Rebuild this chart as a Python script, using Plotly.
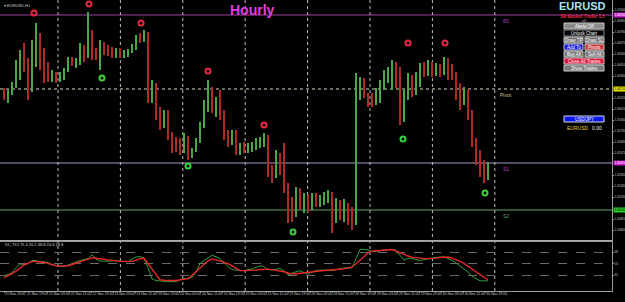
import plotly.graph_objects as go

# ---------------- data ----------------
bar_index = list(range(122))

open_ = [1.0615,1.0613,1.0618,1.0625,1.0645,1.0655,1.0648,1.0630,1.0665,1.0675,
         1.0650,1.0635,1.0632,1.0636,1.0630,1.0634,1.0640,1.0650,1.0647,1.0649,
         1.0663,1.0655,1.0675,1.0658,1.0654,1.0666,1.0660,1.0657,1.0655,1.0658,
         1.0654,1.0657,1.0659,1.0664,1.0673,1.0669,1.0677,1.0615,1.0625,1.0598,
         1.0592,1.0597,1.0575,1.0570,1.0567,1.0562,1.0572,1.0555,1.0560,1.0570,
         1.0585,1.0605,1.0620,1.0605,1.0610,1.0598,1.0575,1.0572,1.0577,1.0560,
         1.0565,1.0562,1.0564,1.0566,1.0569,1.0570,1.0573,1.0540,1.0534,1.0552,
         1.0550,1.0525,1.0500,1.0495,1.0515,1.0505,1.0512,1.0502,1.0513,1.0507,
         1.0512,1.0515,1.0517,1.0495,1.0507,1.0497,1.0505,1.0490,1.0488,1.0622,
         1.0628,1.0615,1.0610,1.0607,1.0618,1.0625,1.0635,1.0638,1.0645,1.0628,
         1.0592,1.0615,1.0632,1.0620,1.0635,1.0642,1.0640,1.0647,1.0638,1.0644,
         1.0640,1.0650,1.0638,1.0634,1.0618,1.0608,1.0618,1.0595,1.0570,1.0552,
         1.0540,1.0535]

high = [1.0622,1.0620,1.0628,1.0650,1.0660,1.0667,1.0652,1.0670,1.0687,1.0677,
        1.0662,1.0648,1.0640,1.0638,1.0638,1.0642,1.0653,1.0653,1.0652,1.0667,
        1.0665,1.0698,1.0680,1.0662,1.0670,1.0668,1.0665,1.0663,1.0662,1.0662,
        1.0660,1.0661,1.0666,1.0675,1.0677,1.0680,1.0678,1.0630,1.0627,1.0603,
        1.0600,1.0600,1.0578,1.0573,1.0572,1.0577,1.0574,1.0562,1.0572,1.0588,
        1.0610,1.0630,1.0623,1.0613,1.0620,1.0600,1.0580,1.0580,1.0580,1.0567,
        1.0568,1.0567,1.0568,1.0572,1.0573,1.0577,1.0575,1.0545,1.0560,1.0557,
        1.0567,1.0527,1.0513,1.0523,1.0522,1.0517,1.0515,1.0517,1.0517,1.0515,
        1.0518,1.0520,1.0518,1.0512,1.0510,1.0511,1.0507,1.0503,1.0637,1.0633,
        1.0632,1.0617,1.0617,1.0622,1.0630,1.0640,1.0643,1.0650,1.0648,1.0643,
        1.0620,1.0637,1.0635,1.0638,1.0647,1.0648,1.0650,1.0648,1.0647,1.0646,
        1.0653,1.0652,1.0646,1.0638,1.0627,1.0623,1.0620,1.0600,1.0572,1.0560,
        1.0550,1.0548]

low = [1.0610,1.0607,1.0615,1.0622,1.0630,1.0638,1.0610,1.0618,1.0643,1.0640,
       1.0627,1.0628,1.0628,1.0627,1.0628,1.0630,1.0638,1.0644,1.0642,1.0645,
       1.0648,1.0652,1.0650,1.0650,1.0640,1.0655,1.0654,1.0652,1.0652,1.0652,
       1.0652,1.0653,1.0657,1.0660,1.0667,1.0668,1.0607,1.0607,1.0590,1.0580,
       1.0582,1.0570,1.0557,1.0558,1.0555,1.0557,1.0550,1.0552,1.0558,1.0567,
       1.0582,1.0598,1.0597,1.0593,1.0590,1.0570,1.0563,1.0565,1.0555,1.0555,
       1.0557,1.0557,1.0558,1.0560,1.0562,1.0563,1.0533,1.0527,1.0532,1.0535,
       1.0517,1.0487,1.0488,1.0493,1.0500,1.0497,1.0498,1.0500,1.0503,1.0503,
       1.0505,1.0507,1.0477,1.0487,1.0490,1.0488,1.0485,1.0480,1.0485,1.0610,
       1.0612,1.0603,1.0603,1.0605,1.0607,1.0620,1.0627,1.0620,1.0622,1.0585,
       1.0588,1.0610,1.0613,1.0615,1.0623,1.0633,1.0634,1.0633,1.0634,1.0633,
       1.0635,1.0630,1.0630,1.0610,1.0600,1.0605,1.0590,1.0563,1.0545,1.0533,
       1.0527,1.0530]

close = [1.0613,1.0618,1.0625,1.0645,1.0655,1.0648,1.0630,1.0665,1.0675,1.0650,
         1.0635,1.0632,1.0636,1.0630,1.0634,1.0640,1.0650,1.0647,1.0649,1.0663,
         1.0655,1.0675,1.0658,1.0654,1.0666,1.0660,1.0657,1.0655,1.0658,1.0654,
         1.0657,1.0659,1.0664,1.0673,1.0669,1.0677,1.0615,1.0625,1.0598,1.0592,
         1.0597,1.0575,1.0570,1.0567,1.0562,1.0572,1.0555,1.0560,1.0570,1.0585,
         1.0605,1.0620,1.0605,1.0610,1.0598,1.0575,1.0572,1.0577,1.0560,1.0565,
         1.0562,1.0564,1.0566,1.0569,1.0570,1.0573,1.0540,1.0534,1.0552,1.0550,
         1.0525,1.0500,1.0495,1.0515,1.0505,1.0512,1.0502,1.0513,1.0507,1.0512,
         1.0515,1.0517,1.0495,1.0507,1.0497,1.0505,1.0490,1.0488,1.0622,1.0628,
         1.0615,1.0610,1.0607,1.0618,1.0625,1.0635,1.0638,1.0645,1.0628,1.0592,
         1.0615,1.0632,1.0620,1.0635,1.0642,1.0640,1.0647,1.0638,1.0644,1.0640,
         1.0650,1.0638,1.0634,1.0618,1.0608,1.0618,1.0595,1.0570,1.0552,1.0540,
         1.0535,1.0545]

# fractal / signal arrows
sell_sig_bar = [7.5, 21.25, 34.25, 51, 65, 101, 110.25]
sell_sig_price = [1.0697, 1.0706, 1.0687, 1.0639, 1.0585, 1.0667, 1.0667]
buy_sig_bar = [24.5, 46, 72.25, 99.75, 120.25]
buy_sig_price = [1.0632, 1.0544, 1.0478, 1.0571, 1.0517]

# pivot levels
level_names = ["R1", "Pivot", "S1", "S2"]
level_prices = [1.0695, 1.0621, 1.0547, 1.0500]

# TDI sub-window
tdi_fast = [31.5,33,36,44,50,48,50,55,55,53, 53,52,48.5,46.5,45.5,45.5,48,50.5,53,55,
            56.5,58,64,57,54,53.5,53.8,54.5,55,54, 53,53,57,60.5,61,59,43.5,26.2,23.8,23,
            22.5,22,22,22,25,27.5,26.5,29,37,50, 55,59,63,61,58,52,45.5,41,40,39.5,
            39.5,40.5,41.8,44,46.5,46,40.5,40.5,41,42.5, 39,32.5,35.5,37.5,39.2,36,34,37,39.4,40,
            40.5,40,39.3,40.5,42.5,43.5,43.5,43.5,58,72.3, 72.3,71.5,68.5,69.5,71,71.5,72,72,71.2,63,
            55.5,58.5,58.5,56.5,55,56.5,58,59.2,59.8,60.4, 60.6,58,55.5,51,46.4,42.5,37,30.5,26.5,23.4,
            23.2,23.4]
tdi_slow = [28.5,31,34.5,38.5,43.5,48,51,53.3,53.5,53, 52,50.5,48.5,46.8,46.4,46.4,46.6,48.8,50.8,52.2,
            54.5,56.8,59,58.5,57.5,56.8,56.2,55,54,53.6, 53.6,53.6,53.6,55.5,58,58.5,50,41,32,25,
            24.3,23.8,23.4,23.8,24.8,25.6,27,32,37.5,42, 48.5,54.5,57.5,56.5,54.5,52,50,46.5,42.5,39.2,
            39.2,39.2,39.2,40,41,41.8,41.6,40.8,40,39.2, 37.5,35.5,33.8,34.5,35.3,35.8,36.5,37.4,38.5,39.2,
            39.5,39.8,40.1,40.3,40.6,42,43.5,45,50,55, 61,67,69.6,70.2,70.7,71.1,71.7,72.2,70,67,
            64.5,62,60.2,59.3,58.4,58,58,58,58.8,59.6, 60.3,60.5,58.7,56.8,53.8,50.5,46.5,42,37.5,33,
            29,25]
tdi_levels = [68, 50, 32]

time_labels = ["21 Nov 2016", "21 Nov 19:00", "22 Nov 03:00", "22 Nov 11:00", "22 Nov 19:00",
               "23 Nov 03:00", "23 Nov 11:00", "23 Nov 19:00", "24 Nov 03:00", "24 Nov 11:00",
               "24 Nov 19:00", "25 Nov 03:00", "25 Nov 11:00", "25 Nov 19:00", "28 Nov 03:00",
               "28 Nov 11:00", "28 Nov 19:00", "29 Nov 03:00", "29 Nov 11:00", "29 Nov 19:00",
               "30 Nov 03:00", "30 Nov 11:00", "30 Nov 19:00"]
BARS_PER_LABEL = 5.47
GRID_FIRST, GRID_STEP, GRID_COUNT = 13.5, 15.6, 8
PRICE_TICK_TOP, PRICE_TICK_STEP, PRICE_TICK_COUNT = 1.0700, 0.0011, 22

# ---------------- figure ----------------
W, H, R = 625, 302, 13
PW = W - R
BULL, BEAR = "#4aa84a", "#b02a2a"
FONT = "Liberation Sans"
SUB_BOTTOM = 291


def px(x):
    return x / PW


def py(y):
    return 1 - y / H


bar_colors = [BULL if c >= o else BEAR for o, c in zip(open_, close)]
body_base = [min(o, c) for o, c in zip(open_, close)]
body_size = [max(abs(c - o), 0.00004) for o, c in zip(open_, close)]
wick_size = [h - l for h, l in zip(high, low)]

price_ticks = [round(PRICE_TICK_TOP - k * PRICE_TICK_STEP, 5) for k in range(PRICE_TICK_COUNT)]
price_ticks = [t for t in price_ticks if all(abs(t - L) > 0.00045 for L in level_prices)]

fig = go.Figure()

# wicks (high-low) and bodies (open-close)
fig.add_trace(go.Bar(x=bar_index, y=wick_size, base=low, width=0.22,
                     marker=dict(color=bar_colors, line=dict(width=0)),
                     showlegend=False, hoverinfo="skip", xaxis="x", yaxis="y"))
fig.add_trace(go.Bar(x=bar_index, y=body_size, base=body_base, width=0.5,
                     marker=dict(color=bar_colors, line=dict(width=0)),
                     showlegend=False, hoverinfo="skip", xaxis="x", yaxis="y"))

fig.add_trace(go.Scatter(x=sell_sig_bar, y=sell_sig_price, mode="markers", showlegend=False,
                         marker=dict(symbol="circle-open", size=5, color="#e8283c", line=dict(width=2)),
                         xaxis="x", yaxis="y"))
fig.add_trace(go.Scatter(x=buy_sig_bar, y=buy_sig_price, mode="markers", showlegend=False,
                         marker=dict(symbol="circle-open", size=5, color="#3ad23a", line=dict(width=2)),
                         xaxis="x", yaxis="y"))

fig.add_trace(go.Scatter(x=bar_index, y=tdi_fast, mode="lines", showlegend=False,
                         line=dict(color="#2f9e38", width=1), xaxis="x2", yaxis="y2"))
fig.add_trace(go.Scatter(x=bar_index, y=tdi_slow, mode="lines", showlegend=False,
                         line=dict(color="#e82828", width=1.4), xaxis="x2", yaxis="y2"))

level_colors = ["#a03ca0", "#dcdcc0", "#ad98c8", "#5ea85e"]
level_dash = ["solid", "dot", "solid", "solid"]
label_colors = ["#b040c0", "#c8c890", "#c040c0", "#6a9a6a"]
axis_bg = ["#c820c8", "#e8e800", "#c820c8", "#28d028"]
axis_fg = ["#ffffff", "#000000", "#ffffff", "#000000"]

shapes = []
annotations = []
for name, p, lc, ld, tc, bg, fg in zip(level_names, level_prices, level_colors, level_dash,
                                         label_colors, axis_bg, axis_fg):
    shapes.append(dict(type="line", xref="paper", x0=0, x1=1, yref="y", y0=p, y1=p,
                       line=dict(color=lc, width=1, dash=ld), layer="below"))
    annotations.append(dict(xref="x", x=125.5, yref="y", y=p, text=name, showarrow=False,
                            xanchor="center", yanchor="top", yshift=-1,
                            font=dict(size=5, color=tc, family=FONT)))
    annotations.append(dict(xref="paper", x=1.0, yref="y", y=p, text=f"{p:.5f}", showarrow=False,
                            xanchor="left", yanchor="middle", xshift=1, bgcolor=bg,
                            width=12, height=4, borderpad=0,
                            font=dict(size=3, color=fg, family=FONT)))

for k in range(GRID_COUNT):
    gx = GRID_FIRST + GRID_STEP * k
    shapes.append(dict(type="line", xref="x", x0=gx, x1=gx, yref="paper", y0=py(SUB_BOTTOM), y1=1,
                       line=dict(color="#bdbdbd", width=1, dash="dot"), layer="below"))

# texts
annotations += [
    dict(xref="paper", yref="paper", x=px(2), y=py(1), text="▾ EURUSD,H1", showarrow=False,
         xanchor="left", yanchor="top", font=dict(size=4, color="#d0d0d0", family=FONT)),
    dict(xref="paper", yref="paper", x=px(252), y=py(10), text="<b>Hourly</b>", showarrow=False,
         xanchor="center", yanchor="middle", font=dict(size=14, color="#e23ee2", family=FONT)),
    dict(xref="paper", yref="paper", x=px(582), y=py(6.3), text="<b>EURUSD</b>", showarrow=False,
         xanchor="center", yanchor="middle", font=dict(size=11, color="#a6e4f2", family=FONT)),
    dict(xref="paper", yref="paper", x=px(582), y=py(16), text="<b>SB Basket Trader 1.5</b>",
         showarrow=False, xanchor="center", yanchor="middle",
         font=dict(size=4.5, color="#e8283a", family=FONT)),
    dict(xref="paper", yref="paper", x=px(584), y=py(20.9), text="- v2 -", showarrow=False,
         xanchor="center", yanchor="middle", font=dict(size=3.5, color="#d0d0d0", family=FONT)),
    dict(xref="paper", yref="paper", x=px(3), y=py(244.5), text="DL_TDI 75.4 26.2 48.8 24.6 18.8",
         showarrow=False, xanchor="left", yanchor="middle",
         font=dict(size=4, color="#d0d0d0", family=FONT)),
    dict(xref="paper", yref="paper", x=px(565), y=py(128), text="EURUSD", showarrow=False,
         xanchor="left", yanchor="middle", font=dict(size=5, color="#e8d040", family=FONT)),
    dict(xref="paper", yref="paper", x=px(590), y=py(128), text="0.00", showarrow=False,
         xanchor="left", yanchor="middle", font=dict(size=5, color="#f0f0f0", family=FONT)),
]

# panel buttons: (text, left, top, right, bottom, bg, border, fg)
buttons = [
    ("Alerts Off", 564, 23, 604, 29, "#8a8a8a", "#c8c8c8", "#ffffff"),
    ("Unlock Chart", 564, 30, 604, 36, "#000000", "#8a8a8a", "#ffffff"),
    ("Draw TP", 564, 37, 583, 43, "#6e6e6e", "#c8c8c8", "#ffffff"),
    ("Draw SL", 585, 37, 604, 43, "#6e6e6e", "#c8c8c8", "#ffffff"),
    ("Add To", 564, 44, 583, 50, "#1515e6", "#c8c8c8", "#ffffff"),
    ("Pivots", 585, 44, 604, 50, "#c83a3a", "#c8c8c8", "#ffffff"),
    ("Buy All", 564, 51, 583, 57, "#7a7a7a", "#c8c8c8", "#ffffff"),
    ("Sell All", 585, 51, 604, 57, "#7a7a7a", "#c8c8c8", "#ffffff"),
    ("Close All Trades", 564, 58, 604, 64, "#e0143c", "#c8c8c8", "#ffffff"),
    ("Show Trades", 564, 65, 604, 71, "#7a7a7a", "#c8c8c8", "#ffffff"),
    ("USD/JPY", 564, 116, 604, 122, "#0c18ea", "#d8d8d8", "#ffffff"),
]
for t, l, tp, r, b, bg, bc, fg in buttons:
    shapes.append(dict(type="rect", xref="paper", yref="paper", x0=px(l), x1=px(r), y0=py(b), y1=py(tp),
                       fillcolor=bg, line=dict(color=bc, width=1), layer="above"))
    annotations.append(dict(xref="paper", yref="paper", x=px((l + r) / 2), y=py((tp + b) / 2), text=t,
                            showarrow=False, xanchor="center", yanchor="middle",
                            font=dict(size=4.5, color=fg, family=FONT)))

fig.update_layout(
    width=W, height=H, margin=dict(l=0, r=R, t=0, b=0, autoexpand=False),
    paper_bgcolor="#000000", plot_bgcolor="#000000",
    font=dict(family=FONT, color="#c8c8c8"),
    showlegend=False, shapes=shapes, annotations=annotations, barmode="overlay",
    xaxis=dict(domain=[0, 1], range=[-1, 152], anchor="y", showticklabels=False, showgrid=False,
               zeroline=False, showline=True, linecolor="#a8a8a8", linewidth=2, ticks=""),
    yaxis=dict(domain=[py(240), 1], range=[1.0470, 1.0710], side="right", anchor="x",
               tickvals=price_ticks, tickformat=".5f", showgrid=False, zeroline=False,
               showline=True, mirror=True, linecolor="#9a9a9a", ticks="outside", ticklen=1,
               tickcolor="#9a9a9a", tickfont=dict(size=3, color="#c8c8c8")),
    xaxis2=dict(domain=[0, 1], anchor="y2", matches="x", range=[-1, 152],
                tickvals=[k * BARS_PER_LABEL for k in range(len(time_labels))], ticktext=time_labels,
                ticklabelposition="outside right", ticklabelstandoff=-1, tickangle=0,
                ticks="outside", ticklen=1,
                tickcolor="#9a9a9a", tickfont=dict(size=3.5, color="#c8c8c8"), showgrid=False,
                zeroline=False, showline=True, mirror=True, linecolor="#9a9a9a", linewidth=1),
    yaxis2=dict(domain=[py(SUB_BOTTOM), py(242)], range=[7.52, 83.84], side="right", anchor="x2",
                tickvals=tdi_levels, showgrid=True, gridcolor="#6a6a6a", griddash="dash",
                zeroline=False, showline=True, mirror=True, linecolor="#9a9a9a",
                ticks="outside", ticklen=1, tickcolor="#9a9a9a",
                tickfont=dict(size=3, color="#c8c8c8")),
)

fig.write_html("out.html")
